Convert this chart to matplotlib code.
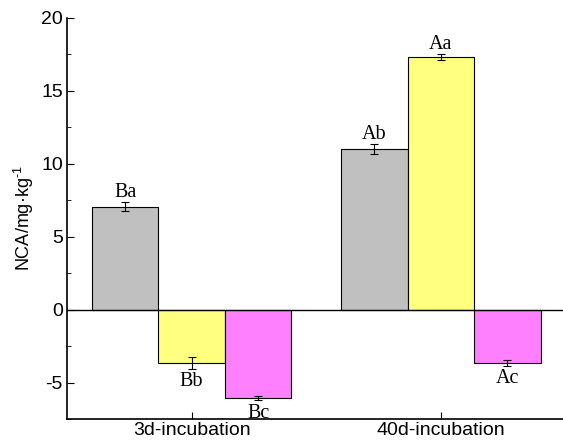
import numpy as np
import matplotlib as mpl
mpl.use('Agg')
import matplotlib.pyplot as plt
from matplotlib.ticker import MultipleLocator

plt.rcParams['axes.unicode_minus'] = False
plt.rcParams['mathtext.fontset'] = 'custom'
plt.rcParams['mathtext.rm'] = 'Liberation Sans'
plt.rcParams['mathtext.it'] = 'Liberation Sans'

# data
groups = ["3d-incubation", "40d-incubation"]
gray_vals = [7.05, 11.0]
yellow_vals = [-3.65, 17.3]
pink_vals = [-6.05, -3.65]
gray_err = [0.32, 0.34]
yellow_err = [0.4, 0.2]
pink_err = [0.15, 0.18]
gray_lab = ["Ba", "Ab"]
yellow_lab = ["Bb", "Aa"]
pink_lab = ["Bc", "Ac"]

fig = plt.figure(figsize=(5.63, 4.45), dpi=100)
ax = fig.add_axes([0.119, 0.058, 0.881, 0.902])

x = np.arange(len(groups))
w = 0.267
series = [(gray_vals, gray_err, gray_lab, "#C0C0C0", -w),
          (yellow_vals, yellow_err, yellow_lab, "#FFFF80", 0),
          (pink_vals, pink_err, pink_lab, "#FF80FF", w)]

for vals, errs, labs, col, off in series:
    ax.bar(x + off, vals, w, color=col, edgecolor="black", linewidth=0.8, zorder=2)
    ax.errorbar(x + off, vals, yerr=errs, fmt="none", ecolor="black",
                elinewidth=0.8, capsize=3, capthick=0.8, zorder=3)
    for xi, v, e, lab in zip(x + off, vals, errs, labs):
        if v >= 0:
            ax.text(xi, v + e + 0.35, lab, ha="center", va="baseline",
                    family="Liberation Serif", fontsize=14.5)
        else:
            ax.text(xi, v - e - 0.25, lab, ha="center", va="top",
                    family="Liberation Serif", fontsize=14.5)

ax.axhline(0, color="black", linewidth=1, zorder=4)

ax.set_xlim(-0.5, 1.49)
ax.set_ylim(-7.5, 20)
ax.set_xticks(x)
ax.set_xticklabels(groups, family="Liberation Sans", fontsize=14)
ax.yaxis.set_major_locator(MultipleLocator(5))
ax.yaxis.set_minor_locator(MultipleLocator(2.5))
for lab in ax.get_yticklabels():
    lab.set_family("Liberation Sans")
    lab.set_fontsize(14)
ax.tick_params(axis="y", which="both", direction="in", pad=3)
ax.tick_params(axis="y", which="major", length=5)
ax.tick_params(axis="y", which="minor", length=3)
ax.tick_params(axis="x", direction="in", length=5, pad=2)
ax.spines["top"].set_visible(False)
ax.spines["right"].set_visible(False)
ax.spines["left"].set_linewidth(1.2)
ax.spines["bottom"].set_linewidth(1.2)
ax.set_ylabel(r"NCA/mg·kg$^{\text{-}1}$", family="Liberation Sans", fontsize=13, labelpad=4)

fig.savefig("out.png", dpi=100)
